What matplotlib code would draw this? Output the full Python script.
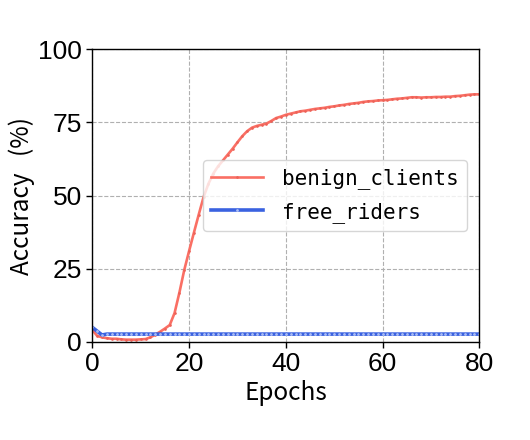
import matplotlib
matplotlib.use('Agg')
import matplotlib.pyplot as plt

# 数据：每个 epoch 的准确率 (%)
epochs = list(range(0, 81))
benign_clients = [4.0, 2.0, 1.5, 1.2, 1.0, 1.0, 0.8, 0.7, 0.7, 0.7, 0.8, 0.9,
                  1.5, 2.4, 3.4, 4.5, 5.7, 9.8, 16.8, 24.5, 31.0,
                  37.3, 43.5, 49.5, 54.0, 57.5, 60.0, 62.0, 64.0, 66.0, 68.2,
                  70.3, 72.0, 73.2, 73.8, 74.2, 74.6, 75.5, 76.5, 77.0, 77.6,
                  78.0, 78.4, 78.8, 79.0, 79.3, 79.6, 79.8, 80.0, 80.3, 80.5,
                  80.8, 81.0, 81.3, 81.5, 81.7, 82.0, 82.2, 82.3, 82.5, 82.6,
                  82.7, 82.9, 83.1, 83.2, 83.4, 83.6, 83.6, 83.5, 83.6, 83.6,
                  83.7, 83.7, 83.8, 83.8, 84.0, 84.1, 84.3, 84.5, 84.6, 84.6]
free_riders = [4.9, 3.6, 2.3, 2.6, 2.6, 2.6, 2.6, 2.6, 2.6, 2.6, 2.6, 2.6,
               2.6, 2.6, 2.6, 2.6, 2.6, 2.6, 2.6, 2.6, 2.6,
               2.6, 2.6, 2.6, 2.6, 2.6, 2.6, 2.6, 2.6, 2.6, 2.6,
               2.6, 2.6, 2.6, 2.6, 2.6, 2.6, 2.6, 2.6, 2.6, 2.6,
               2.6, 2.6, 2.6, 2.6, 2.6, 2.6, 2.6, 2.6, 2.6, 2.6,
               2.6, 2.6, 2.6, 2.6, 2.6, 2.6, 2.6, 2.6, 2.6, 2.6,
               2.6, 2.6, 2.6, 2.6, 2.6, 2.6, 2.6, 2.6, 2.6, 2.6,
               2.6, 2.6, 2.6, 2.6, 2.6, 2.6, 2.6, 2.6, 2.6, 2.6]
xticks = [0, 20, 40, 60, 80]
yticks = [0, 25, 50, 75, 100]

fig = plt.figure(figsize=(5.3, 4.4), dpi=100)
ax = fig.add_axes([0.1742, 0.2234, 0.7302, 0.6645])

ax.plot(epochs, benign_clients, color='#FA6F64', lw=1.9, marker='.', ms=1.8,
        mec='#EC6258', mfc='#EC6258', label='benign_clients')
ax.plot(epochs, free_riders, color='#3A62E0', lw=2.6, marker='.', ms=2.0,
        mec='#A9BCF4', mfc='#A9BCF4', label='free_riders')

ax.set_xlim(0, 80)
ax.set_ylim(0, 100)
ax.set_xticks(xticks)
ax.set_yticks(yticks)
ax.grid(True, ls='--', color='#b0b0b0', lw=0.8)
ax.set_axisbelow(True)
ax.tick_params(labelsize=19, length=4, width=1)
for lab in ax.get_xticklabels() + ax.get_yticklabels():
    lab.set_family('Liberation Sans')
for s in ax.spines.values():
    s.set_linewidth(1.0)

ax.set_xlabel('Epochs', fontsize=17.5, family=['Noto Sans CJK SC', 'DejaVu Sans'], labelpad=3)
ax.set_ylabel('Accuracy   (%)', fontsize=17.5, family=['Noto Sans CJK SC', 'DejaVu Sans'], labelpad=2)

leg = ax.legend(loc='center right', bbox_to_anchor=(0.968, 0.5), borderaxespad=0,
                prop={'family': 'DejaVu Sans Mono', 'size': 15},
                handlelength=2.5, handletextpad=0.9, labelspacing=0.6,
                framealpha=0.8, edgecolor='#cccccc')

fig.savefig('out.png', dpi=100)
